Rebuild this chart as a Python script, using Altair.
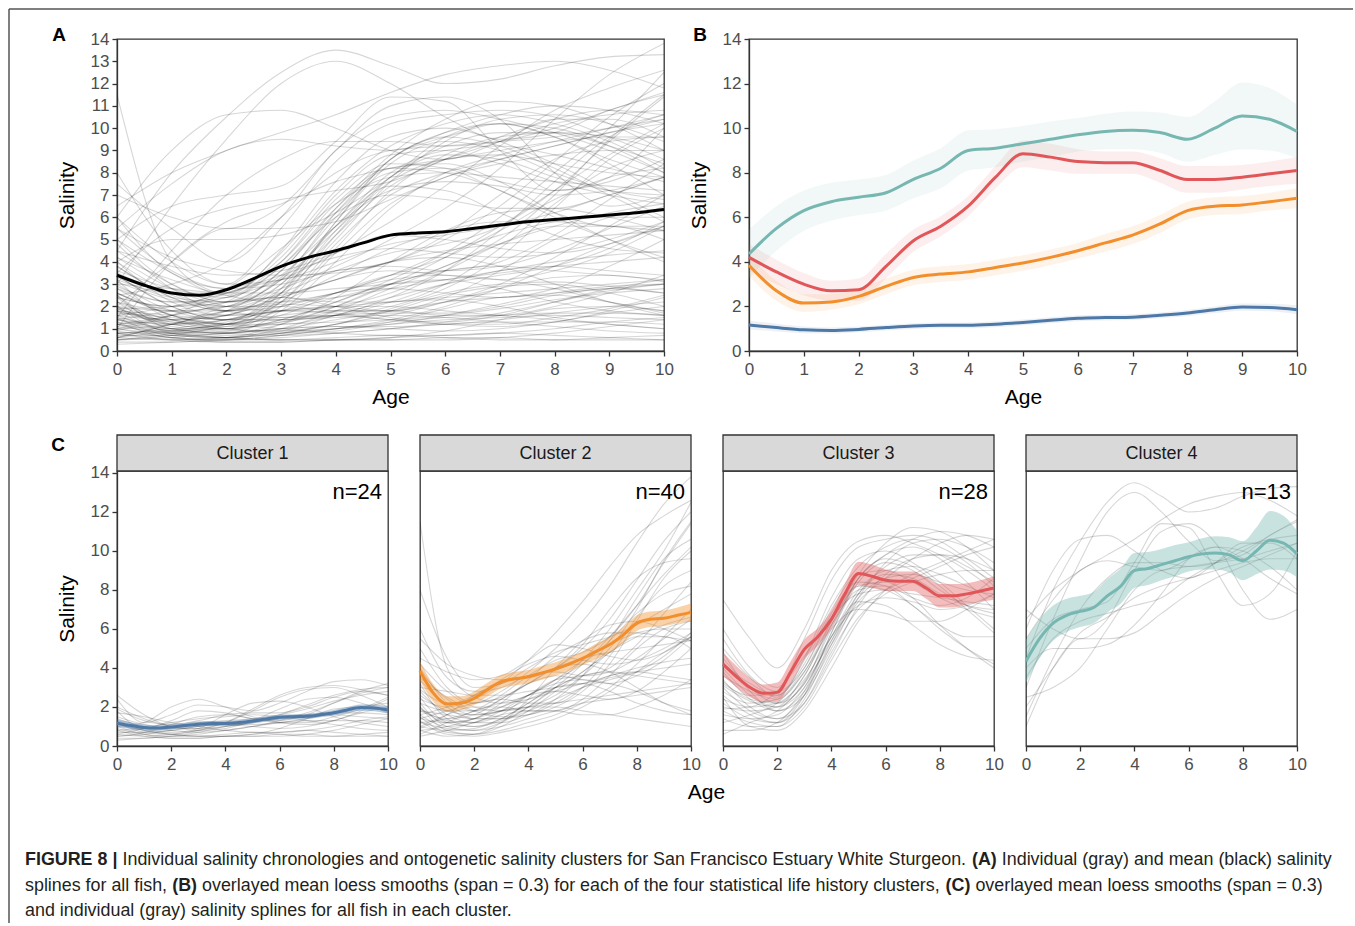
import altair as alt
import pandas as pd

FONT = "Liberation Sans"

AGES = list(range(11))
SMOOTH_AGES = [i / 2 for i in range(21)]

CLUSTERS = ["Cluster 1", "Cluster 2", "Cluster 3", "Cluster 4"]
COLORS = ["#4e79a7", "#f28e2b", "#e15759", "#76b7b2"]
N_LABELS = ["n=24", "n=40", "n=28", "n=13"]

# individual salinity splines (ages 0..10), per cluster
c1_fish = [
    [2.4, 1.2, 1.6, 2.1, 2.0, 1.8, 2.2, 2.8, 3.3, 3.4, 3.1],
    [1.8, 0.9, 1.3, 1.8, 1.7, 1.4, 1.3, 1.6, 2.2, 2.8, 3.2],
    [1.2, 0.7, 0.6, 0.8, 1.2, 1.9, 2.6, 3.0, 3.1, 2.9, 2.6],
    [0.5, 0.6, 0.8, 1.0, 1.1, 1.1, 1.2, 1.4, 1.7, 2.0, 2.2],
    [1.0, 1.2, 2.0, 2.4, 2.0, 1.5, 1.2, 1.1, 1.3, 1.8, 2.4],
    [0.8, 0.5, 0.4, 0.4, 0.5, 0.6, 0.7, 0.8, 0.7, 0.6, 0.5],
    [1.5, 1.1, 0.9, 0.9, 1.0, 1.2, 1.6, 2.1, 2.6, 2.9, 3.0],
    [0.6, 0.9, 1.2, 1.4, 1.5, 1.6, 1.5, 1.3, 1.1, 0.9, 0.8],
    [2.0, 1.4, 1.0, 0.8, 0.9, 1.3, 1.9, 2.4, 2.5, 2.2, 1.7],
    [0.4, 0.4, 0.5, 0.5, 0.5, 0.5, 0.6, 0.6, 0.5, 0.5, 0.5],
    [1.3, 0.9, 0.7, 0.9, 1.6, 2.2, 2.3, 2.0, 1.5, 1.2, 1.0],
    [0.9, 0.6, 0.5, 0.6, 0.8, 1.0, 1.3, 1.7, 2.2, 2.7, 3.0],
    [1.7, 1.5, 1.2, 1.0, 0.8, 0.7, 0.7, 0.8, 1.0, 1.3, 1.5],
    [0.7, 0.7, 0.8, 1.0, 1.1, 1.0, 0.9, 1.0, 1.3, 1.7, 2.0],
    [1.1, 0.8, 0.6, 0.5, 0.5, 0.6, 0.9, 1.4, 1.9, 2.0, 1.8],
    [2.6, 1.6, 1.0, 0.9, 1.2, 1.8, 2.5, 2.9, 3.0, 2.6, 2.0],
    [0.5, 0.7, 1.1, 1.5, 1.6, 1.4, 1.2, 1.2, 1.5, 1.9, 2.5],
    [1.4, 1.0, 0.8, 0.7, 0.8, 1.0, 1.2, 1.3, 1.3, 1.3, 1.2],
    [0.3, 0.4, 0.5, 0.7, 1.0, 1.3, 1.5, 1.6, 1.7, 1.7, 1.6],
    [1.0, 0.6, 0.4, 0.4, 0.5, 0.5, 0.5, 0.6, 0.8, 1.1, 1.4],
    [1.9, 1.3, 1.1, 1.3, 1.6, 1.7, 1.7, 2.0, 2.5, 2.8, 2.6],
    [0.8, 0.9, 1.0, 1.2, 1.3, 1.4, 1.6, 1.9, 2.3, 2.6, 2.8],
    [1.2, 0.8, 0.6, 0.5, 0.6, 0.7, 0.6, 0.5, 0.5, 0.6, 0.7],
    [0.6, 0.5, 0.6, 0.8, 1.0, 1.2, 1.4, 1.5, 1.6, 1.5, 1.4],
]
c2_fish = [
    [11.5, 4.0, 2.5, 2.2, 2.4, 2.8, 3.2, 3.6, 4.0, 4.3, 4.5],
    [8.0, 4.5, 3.0, 3.2, 4.0, 4.8, 5.2, 5.6, 6.2, 7.0, 7.8],
    [6.0, 3.5, 2.8, 3.0, 3.6, 3.8, 3.6, 3.8, 4.5, 5.5, 6.5],
    [5.5, 4.2, 3.6, 3.4, 3.5, 4.0, 5.0, 6.5, 8.5, 10.5, 12.0],
    [5.0, 3.0, 2.2, 2.5, 3.2, 4.0, 4.5, 4.8, 5.0, 5.2, 5.4],
    [4.5, 3.8, 3.4, 3.6, 4.4, 5.2, 5.0, 4.6, 4.4, 4.8, 5.6],
    [4.0, 2.2, 1.6, 1.8, 2.4, 3.0, 3.8, 5.0, 7.0, 9.5, 11.5],
    [3.5, 2.5, 1.8, 1.5, 1.6, 2.2, 3.0, 3.6, 3.8, 3.6, 3.4],
    [3.2, 1.4, 1.0, 1.4, 2.2, 3.2, 4.4, 6.0, 8.0, 10.0, 12.5],
    [3.0, 2.8, 2.6, 2.6, 2.8, 3.0, 3.2, 3.5, 3.8, 4.0, 4.2],
    [2.8, 1.6, 1.2, 1.2, 1.6, 2.4, 3.6, 5.4, 7.6, 9.6, 10.6],
    [2.6, 1.8, 1.6, 1.8, 2.0, 2.2, 2.4, 2.6, 2.8, 3.0, 3.2],
    [2.5, 1.2, 1.0, 1.3, 2.0, 3.0, 4.2, 5.6, 7.2, 8.8, 10.2],
    [2.4, 2.0, 2.4, 3.2, 4.4, 5.8, 7.4, 9.2, 10.8, 11.8, 12.6],
    [2.2, 1.0, 0.8, 1.0, 1.4, 1.8, 2.2, 2.4, 2.6, 2.8, 3.0],
    [2.2, 1.8, 1.8, 2.4, 3.2, 4.0, 4.2, 3.8, 3.0, 2.2, 1.6],
    [2.0, 1.2, 1.4, 2.2, 3.4, 4.6, 5.4, 5.8, 5.8, 5.6, 5.4],
    [2.0, 0.8, 0.6, 0.8, 1.2, 1.6, 2.2, 3.0, 4.2, 5.6, 7.0],
    [1.8, 1.4, 1.6, 2.4, 3.2, 3.6, 3.4, 3.2, 3.6, 4.4, 5.6],
    [1.8, 1.6, 1.4, 1.4, 1.6, 2.0, 2.8, 4.2, 6.4, 8.6, 10.0],
    [1.6, 1.0, 1.2, 1.8, 2.6, 3.2, 3.4, 3.2, 2.8, 2.2, 1.8],
    [1.6, 2.0, 2.6, 3.4, 4.2, 4.6, 4.4, 4.2, 4.4, 5.0, 5.8],
    [1.5, 0.7, 0.6, 1.0, 1.8, 2.8, 3.8, 4.8, 5.6, 6.2, 6.6],
    [1.4, 1.2, 1.4, 1.8, 2.0, 2.0, 1.8, 1.6, 1.4, 1.2, 1.0],
    [1.4, 1.8, 2.2, 2.4, 2.2, 2.2, 3.0, 4.6, 6.6, 8.2, 9.0],
    [1.3, 0.6, 0.5, 0.7, 1.0, 1.4, 2.0, 2.8, 3.8, 4.8, 5.6],
    [1.2, 1.4, 1.8, 2.6, 3.6, 4.4, 4.8, 5.6, 7.2, 9.4, 11.4],
    [1.2, 0.9, 0.8, 1.2, 2.0, 3.0, 3.6, 3.8, 3.6, 3.4, 3.2],
    [1.0, 1.6, 2.0, 2.0, 1.8, 1.8, 2.4, 3.6, 5.0, 6.0, 6.4],
    [1.0, 0.8, 0.9, 1.4, 2.2, 3.0, 3.2, 2.8, 2.2, 1.8, 1.6],
    [0.9, 1.6, 2.6, 3.2, 3.6, 4.0, 5.2, 7.0, 8.6, 9.4, 9.6],
    [0.8, 1.0, 1.4, 2.0, 2.6, 2.8, 2.6, 2.4, 2.8, 3.8, 5.0],
    [0.8, 0.5, 0.6, 1.2, 2.4, 4.0, 5.4, 6.2, 6.4, 6.0, 5.4],
    [0.6, 1.2, 1.8, 2.2, 2.6, 3.4, 4.4, 5.2, 5.8, 6.0, 6.0],
    [0.5, 0.8, 1.2, 1.6, 1.8, 1.8, 1.6, 1.6, 2.0, 2.6, 3.4],
    [3.8, 2.4, 1.8, 2.0, 2.6, 3.4, 4.2, 5.4, 6.8, 7.8, 8.2],
    [4.2, 2.8, 2.0, 1.8, 2.0, 2.6, 3.6, 4.8, 5.6, 5.6, 5.0],
    [2.9, 2.2, 2.2, 2.8, 3.8, 5.0, 6.4, 8.2, 10.4, 12.4, 13.8],
    [3.4, 2.0, 1.4, 1.4, 1.8, 2.4, 3.0, 3.4, 3.8, 4.6, 5.8],
    [1.9, 1.3, 1.2, 1.6, 2.6, 3.4, 3.6, 4.0, 5.2, 6.8, 8.4],
]
c3_fish = [
    [7.5, 5.5, 4.0, 6.0, 9.0, 10.5, 10.8, 10.4, 9.8, 9.0, 8.0],
    [6.0, 4.0, 3.0, 5.5, 8.5, 10.2, 10.6, 10.8, 10.5, 9.6, 8.6],
    [5.0, 3.5, 2.5, 4.5, 7.6, 9.6, 10.0, 9.4, 8.4, 7.2, 6.0],
    [4.5, 3.0, 2.2, 3.2, 6.2, 8.6, 9.8, 10.6, 11.0, 10.8, 10.2],
    [4.2, 3.2, 2.6, 4.2, 7.0, 8.8, 9.0, 8.4, 7.6, 7.0, 6.6],
    [4.0, 2.6, 2.0, 3.0, 5.6, 8.0, 9.0, 9.2, 8.8, 8.2, 7.6],
    [3.8, 2.4, 1.8, 2.8, 5.2, 7.4, 8.6, 9.6, 10.4, 10.8, 10.6],
    [3.6, 2.8, 2.4, 3.8, 6.4, 8.2, 8.4, 7.6, 6.2, 5.0, 4.0],
    [3.4, 2.0, 1.4, 2.2, 4.6, 7.2, 8.8, 9.6, 9.8, 9.6, 9.0],
    [3.2, 2.6, 2.6, 4.4, 7.2, 9.2, 10.2, 10.6, 10.2, 9.4, 8.2],
    [3.0, 1.8, 1.4, 2.6, 5.4, 7.8, 8.8, 8.6, 7.8, 7.2, 7.0],
    [2.8, 2.2, 2.4, 4.0, 6.8, 8.4, 8.2, 7.2, 6.2, 5.6, 5.6],
    [2.6, 1.6, 1.2, 2.2, 4.8, 7.0, 8.0, 8.6, 9.2, 9.8, 10.2],
    [2.4, 2.0, 2.2, 3.4, 5.6, 7.2, 7.6, 7.4, 7.0, 7.2, 7.8],
    [2.2, 1.4, 1.2, 2.6, 5.8, 8.6, 9.6, 9.2, 8.2, 7.0, 5.8],
    [2.0, 1.8, 2.0, 3.6, 6.2, 8.0, 8.2, 7.6, 7.2, 7.6, 8.6],
    [1.8, 1.2, 1.0, 2.0, 4.4, 6.6, 7.8, 8.4, 8.8, 9.0, 9.0],
    [1.6, 1.4, 1.6, 3.0, 5.6, 7.4, 7.2, 6.2, 5.2, 4.6, 4.4],
    [1.4, 1.0, 1.0, 2.4, 5.2, 7.8, 9.2, 9.8, 9.8, 9.2, 8.4],
    [1.2, 1.6, 2.2, 3.8, 6.0, 7.0, 6.8, 6.4, 6.4, 7.0, 7.8],
    [0.8, 0.8, 1.2, 2.8, 5.8, 8.4, 9.4, 9.0, 8.0, 7.2, 6.8],
    [0.6, 1.2, 1.8, 3.2, 5.4, 7.6, 8.6, 8.8, 8.4, 8.0, 7.8],
    [5.5, 3.6, 2.8, 4.0, 6.6, 8.2, 8.0, 7.2, 6.0, 5.0, 4.2],
    [4.8, 2.8, 1.8, 2.6, 5.0, 7.6, 9.4, 10.4, 10.6, 10.2, 9.4],
    [3.1, 2.3, 2.0, 3.3, 6.0, 8.6, 9.8, 10.2, 9.6, 8.4, 7.0],
    [2.5, 1.0, 0.8, 1.8, 4.0, 6.4, 8.0, 8.8, 9.4, 10.0, 10.6],
    [1.9, 2.0, 2.8, 4.6, 6.6, 7.8, 8.0, 7.8, 7.6, 7.4, 7.2],
    [3.3, 2.4, 2.2, 3.6, 6.4, 8.8, 10.4, 11.2, 11.0, 10.2, 9.0],
]
c4_fish = [
    [4.5, 8.0, 10.5, 12.5, 13.5, 12.8, 12.0, 12.2, 12.8, 13.2, 13.3],
    [3.0, 6.5, 9.5, 12.0, 13.0, 12.0, 10.5, 9.5, 9.8, 10.8, 11.5],
    [6.5, 8.0, 9.0, 9.8, 10.6, 11.6, 12.4, 12.8, 13.0, 12.6, 11.8],
    [7.0, 6.0, 5.5, 6.5, 9.0, 11.0, 11.4, 10.4, 8.0, 6.5, 7.0],
    [5.5, 7.5, 9.0, 9.5, 9.2, 9.0, 9.6, 10.2, 10.0, 9.2, 8.0],
    [2.0, 4.0, 5.5, 5.5, 5.8, 6.8, 7.8, 8.6, 9.2, 9.8, 10.4],
    [4.0, 5.0, 5.0, 5.2, 6.2, 7.8, 9.6, 10.2, 9.6, 8.6, 7.8],
    [1.5, 4.5, 7.0, 8.6, 9.4, 9.4, 9.2, 9.4, 10.0, 10.8, 11.6],
    [3.5, 5.5, 6.4, 6.8, 7.2, 7.6, 8.6, 9.4, 10.2, 10.6, 10.8],
    [5.0, 6.5, 7.0, 7.4, 9.4, 11.4, 11.2, 9.0, 7.2, 7.8, 10.0],
    [2.5, 3.0, 4.0, 6.0, 8.0, 9.0, 9.2, 9.4, 9.6, 10.0, 10.4],
    [6.0, 9.0, 10.6, 10.8, 10.0, 9.0, 8.6, 9.4, 10.4, 10.4, 9.6],
    [1.0, 4.0, 5.8, 6.6, 7.6, 8.2, 8.6, 9.0, 9.4, 9.6, 9.6],
]

# loess means (ages 0, 0.5, ..., 10) and confidence half-widths
mean_all = [3.4, 2.95, 2.6, 2.5, 2.75, 3.25, 3.8, 4.2, 4.5, 4.85, 5.2,
            5.3, 5.35, 5.5, 5.65, 5.8, 5.9, 6.0, 6.1, 6.2, 6.35]
mean_c1 = [1.17, 1.05, 0.95, 0.92, 0.97, 1.05, 1.12, 1.15, 1.15, 1.2, 1.28,
           1.38, 1.47, 1.5, 1.52, 1.6, 1.7, 1.85, 1.97, 1.95, 1.85]
mean_c2 = [3.85, 2.7, 2.15, 2.2, 2.45, 2.9, 3.3, 3.45, 3.55, 3.75, 3.95,
           4.2, 4.5, 4.85, 5.2, 5.7, 6.3, 6.5, 6.55, 6.7, 6.85]
mean_c3 = [4.2, 3.55, 3.0, 2.7, 2.75, 3.8, 4.95, 5.6, 6.5, 7.8, 8.85,
           8.7, 8.5, 8.45, 8.45, 8.1, 7.7, 7.7, 7.8, 7.95, 8.1]
mean_c4 = [4.35, 5.5, 6.3, 6.7, 6.9, 7.1, 7.7, 8.2, 9.0, 9.1, 9.3,
           9.5, 9.7, 9.85, 9.9, 9.8, 9.5, 10.0, 10.55, 10.4, 9.85]
hw_c1 = [0.2, 0.17, 0.15, 0.14, 0.13, 0.13, 0.13, 0.13, 0.13, 0.13, 0.13,
         0.13, 0.13, 0.13, 0.13, 0.13, 0.14, 0.15, 0.16, 0.17, 0.2]
hw_c2 = [0.5, 0.45, 0.4, 0.35, 0.35, 0.35, 0.35, 0.35, 0.35, 0.35, 0.35,
         0.35, 0.35, 0.4, 0.4, 0.4, 0.4, 0.4, 0.4, 0.4, 0.45]
hw_c3 = [0.6, 0.55, 0.5, 0.45, 0.5, 0.55, 0.5, 0.45, 0.45, 0.5, 0.6,
         0.6, 0.55, 0.5, 0.5, 0.55, 0.6, 0.6, 0.55, 0.55, 0.6]
hw_c4 = [1.1, 1.0, 0.9, 0.85, 0.8, 0.8, 0.85, 0.9, 0.9, 0.85, 0.8,
         0.8, 0.75, 0.8, 0.85, 0.9, 1.0, 1.2, 1.5, 1.4, 1.2]

CAPTION = [
    [("FIGURE 8 | ", True),
     ("Individual salinity chronologies and ontogenetic salinity clusters for San Francisco Estuary White Sturgeon. ", False),
     ("(A)", True),
     (" Individual (gray) and mean (black) salinity", False)],
    [("splines for all fish, ", False), ("(B)", True),
     (" overlayed mean loess smooths (span = 0.3) for each of the four statistical life history clusters, ", False),
     ("(C)", True), (" overlayed mean loess smooths (span = 0.3)", False)],
    [("and individual (gray) salinity splines for all fish in each cluster.", False)],
]

# ---------------- tables ----------------
FISH = [c1_fish, c2_fish, c3_fish, c4_fish]
MEANS = [mean_c1, mean_c2, mean_c3, mean_c4]
HWS = [hw_c1, hw_c2, hw_c3, hw_c4]

rows = []
for ci, (name, fish) in enumerate(zip(CLUSTERS, FISH)):
    for fi, vals in enumerate(fish):
        for a, v in zip(AGES, vals):
            rows.append({"cluster": name, "fish": f"{ci + 1}-{fi}", "age": a, "sal": v})
fish_df = pd.DataFrame(rows)

mrows = []
for name, m, hw in zip(CLUSTERS, MEANS, HWS):
    for a, mv, h in zip(SMOOTH_AGES, m, hw):
        mrows.append({"cluster": name, "age": a, "mean": mv, "lo": mv - h, "hi": mv + h})
mean_df = pd.DataFrame(mrows)
all_df = pd.DataFrame({"age": SMOOTH_AGES, "mean": mean_all})
one = pd.DataFrame({"k": [0]})

# ---------------- panel geometry ----------------
W_A, W_B, H_TOP = 547, 548, 312
W_C, H_C = 271, 275

xs = alt.Scale(domain=[0, 10], nice=False, zero=False)
yA = alt.Scale(domain=[0, 14], nice=False)
yC = alt.Scale(domain=[0, 14.1], nice=False)


def label(text, x, y, size=19, weight="bold", align="center", color="#000000"):
    return alt.Chart(one).mark_text(
        text=text, font=FONT, fontSize=size, fontWeight=weight, align=align,
        baseline="middle", color=color
    ).encode(x=alt.value(x), y=alt.value(y))


def bound_marker(y):
    # invisible marker that fixes the vertical extent of a row
    return alt.Chart(one).mark_rule(opacity=0, strokeWidth=1, color="#ffffff").encode(
        x=alt.value(0), x2=alt.value(1), y=alt.value(y))


# ---------------- Panel A ----------------
axA_x = alt.Axis(values=AGES, format="d", title="Age")
axA_y = alt.Axis(values=list(range(15)), format="d", title="Salinity")
A_gray = alt.Chart(fish_df).mark_line(
    interpolate="monotone", color="#000000", opacity=0.16, strokeWidth=1.1, clip=True
).encode(
    x=alt.X("age:Q", scale=xs, axis=axA_x),
    y=alt.Y("sal:Q", scale=yA, axis=axA_y),
    detail="fish:N",
)
A_mean = alt.Chart(all_df).mark_line(interpolate="monotone", color="#000000", strokeWidth=3).encode(
    x=alt.X("age:Q", scale=xs, axis=axA_x),
    y=alt.Y("mean:Q", scale=yA, axis=axA_y),
)
panelA = alt.layer(A_gray, A_mean, label("A", -58, -4), bound_marker(380)).properties(
    width=W_A, height=H_TOP)

# ---------------- Panel B ----------------
axB_y = alt.Axis(values=list(range(0, 15, 2)), format="d", title="Salinity")
colB = alt.Color("cluster:N", scale=alt.Scale(domain=CLUSTERS, range=COLORS), legend=None)
B_band = alt.Chart(mean_df).mark_area(interpolate="monotone", opacity=0.1).encode(
    x=alt.X("age:Q", scale=xs, axis=axA_x),
    y=alt.Y("lo:Q", scale=yA, axis=axB_y),
    y2="hi:Q",
    color=colB,
)
B_line = alt.Chart(mean_df).mark_line(interpolate="monotone", strokeWidth=3).encode(
    x=alt.X("age:Q", scale=xs, axis=axA_x),
    y=alt.Y("mean:Q", scale=yA, axis=axB_y),
    color=colB,
    detail="cluster:N",
)
panelB = alt.layer(B_band, B_line, label("B", -49, -4)).properties(width=W_B, height=H_TOP)

# ---------------- Panel C ----------------
c_panels = []
for i, name in enumerate(CLUSTERS):
    ay = alt.Axis(values=list(range(0, 15, 2)), format="d", title="Salinity") if i == 0 else None
    if i == 1:
        ax = alt.Axis(values=list(range(0, 11, 2)), format="d", title="Age", titleX=286)
    else:
        ax = alt.Axis(values=list(range(0, 11, 2)), format="d", title="")
    fsub = fish_df[fish_df.cluster == name]
    msub = mean_df[mean_df.cluster == name]
    g = alt.Chart(fsub).mark_line(
        interpolate="monotone", color="#000000", opacity=0.16, strokeWidth=1.1, clip=True
    ).encode(
        x=alt.X("age:Q", scale=xs, axis=ax),
        y=alt.Y("sal:Q", scale=yC, axis=ay),
        detail="fish:N",
    )
    band = alt.Chart(msub).mark_area(interpolate="monotone", opacity=0.4, color=COLORS[i]).encode(
        x=alt.X("age:Q", scale=xs, axis=ax),
        y=alt.Y("lo:Q", scale=yC, axis=ay),
        y2="hi:Q",
    )
    ln = alt.Chart(msub).mark_line(interpolate="monotone", strokeWidth=3, color=COLORS[i]).encode(
        x=alt.X("age:Q", scale=xs, axis=ax),
        y=alt.Y("mean:Q", scale=yC, axis=ay),
    )
    strip = alt.Chart(one).mark_rect(fill="#d9d9d9", stroke="#333333", strokeWidth=1.3).encode(
        x=alt.value(0), x2=alt.value(W_C), y=alt.value(-36), y2=alt.value(0))
    layers = [g, band, ln, strip,
              label(name, W_C / 2, -17, size=18, weight="normal", color="#1a1a1a"),
              label(N_LABELS[i], W_C - 6, 21, size=22, weight="normal", align="right")]
    if i == 0:
        layers += [label("C", -59, -26), bound_marker(-50), bound_marker(340)]
    c_panels.append(alt.layer(*layers).properties(width=W_C, height=H_C))

# ---------------- caption ----------------
REG = {' ': 278, '(': 333, ')': 333, ',': 278, '.': 278, '=': 584, '|': 260,
       'a': 556, 'b': 556, 'c': 500, 'd': 556, 'e': 556, 'f': 278, 'g': 556, 'h': 556,
       'i': 222, 'j': 222, 'k': 500, 'l': 222, 'm': 833, 'n': 556, 'o': 556, 'p': 556,
       'q': 556, 'r': 333, 's': 500, 't': 278, 'u': 556, 'v': 500, 'w': 722, 'x': 500,
       'y': 500, 'z': 500, 'A': 667, 'B': 667, 'C': 722, 'E': 667, 'F': 611, 'G': 778,
       'I': 278, 'R': 722, 'S': 667, 'U': 722, 'W': 944}
BOLD = {' ': 278, '(': 333, ')': 333, '|': 280, '8': 556, 'A': 722, 'B': 722,
        'C': 722, 'E': 667, 'F': 611, 'G': 778, 'I': 278, 'R': 722, 'U': 722}


def em(text, bold):
    t = BOLD if bold else REG
    return sum(t.get(ch, 556) for ch in text) / 1000.0


line1_em = sum(em(t, b) for t, b in CAPTION[0])
CAP_SIZE = 1307 / line1_em
cap_rows = []
line_y = [38, 64, 89]
for li, segs in enumerate(CAPTION):
    x = 24 - 116
    for t, b in segs:
        lead = len(t) - len(t.lstrip(' '))
        x += lead * 0.278 * CAP_SIZE
        body = t.lstrip(' ')
        cap_rows.append({"px": x, "py": line_y[li], "txt": body.rstrip(' '), "bold": b})
        x += em(body, b) * CAP_SIZE
cap_df = pd.DataFrame(cap_rows)


def cap_layer(bold):
    return alt.Chart(cap_df[cap_df.bold == bold]).mark_text(
        align="left", baseline="middle", font=FONT, fontSize=CAP_SIZE,
        fontWeight="bold" if bold else "normal", color="#231f20"
    ).encode(
        x=alt.X("px:Q", scale=None, axis=None),
        y=alt.Y("py:Q", scale=None, axis=None),
        text="txt:N",
    )


caption = alt.layer(cap_layer(False), cap_layer(True), bound_marker(-10)).properties(
    width=1180, height=60, view=alt.ViewBackground(strokeOpacity=0))

# ---------------- frame (figure border: top and left) ----------------
frame_top = alt.Chart(one).mark_rule(color="#555555", strokeWidth=1.5).encode(
    x=alt.value(0), x2=alt.value(1344), y=alt.value(-30))
frame_left = alt.Chart(one).mark_rule(color="#555555", strokeWidth=1.5).encode(
    x=alt.value(0), y=alt.value(-30), y2=alt.value(884))
frame = alt.layer(frame_top, frame_left).properties(
    width=1, height=1, view=alt.ViewBackground(strokeOpacity=0))

# ---------------- assemble ----------------
top_row = alt.hconcat(panelA, panelB, spacing=85, bounds="flush")
bottom_row = alt.hconcat(*c_panels, spacing=32, bounds="flush")
content = alt.vconcat(top_row, bottom_row, caption, spacing=0, bounds="full")
chart = alt.hconcat(frame, content, spacing=107, bounds="flush").properties(
    padding={"left": 8, "top": 8, "right": 0, "bottom": 0},
    background="#ffffff",
).configure_view(
    stroke="#333333", strokeWidth=1.3
).configure_axis(
    labelFont=FONT, titleFont=FONT, labelFontSize=17, titleFontSize=21,
    labelColor="#4d4d4d", titleColor="#000000", titleFontWeight="normal",
    tickColor="#333333", domainColor="#333333", tickSize=5, tickWidth=1.3,
    domainWidth=1.3, labelPadding=3, titlePadding=8, grid=False, labelFlush=False,
).configure_axisX(
    labelPadding=5, titlePadding=9,
).configure_axisY(
    titlePadding=13,
)

chart.save("out.html", embed_options={"renderer": "svg", "actions": False})
